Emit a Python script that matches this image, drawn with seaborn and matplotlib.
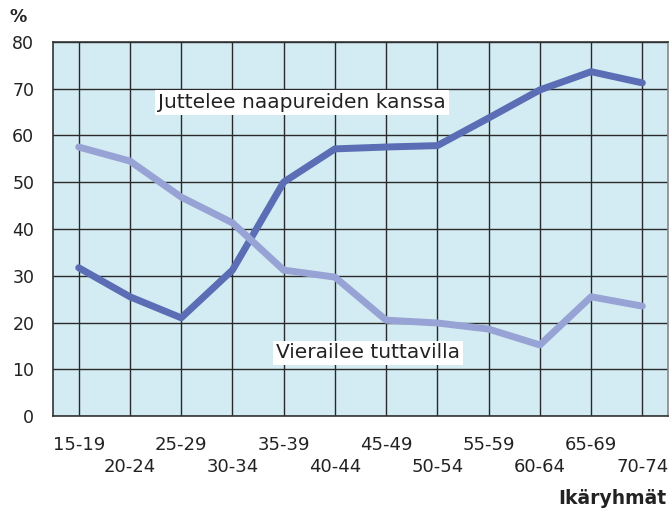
import matplotlib
matplotlib.use("Agg")
import matplotlib.pyplot as plt
import pandas as pd
import seaborn as sns

age_groups = ["15-19", "20-24", "25-29", "30-34", "35-39", "40-44",
              "45-49", "50-54", "55-59", "60-64", "65-69", "70-74"]
juttelee = [31.7, 25.5, 21.0, 31.2, 50.0, 57.1, 57.5, 57.8, 63.7, 69.7, 73.6, 71.2]
vierailee = [57.5, 54.5, 46.8, 41.3, 31.2, 29.7, 20.5, 19.9, 18.6, 15.2, 25.5, 23.5]
series_names = ["Juttelee naapureiden kanssa", "Vierailee tuttavilla"]
y_ticks = [0, 10, 20, 30, 40, 50, 60, 70, 80]

df = pd.DataFrame({
    "ika": list(range(len(age_groups))) * 2,
    "osuus": juttelee + vierailee,
    "sarja": [series_names[0]] * len(age_groups) + [series_names[1]] * len(age_groups),
})

sns.set_style("white")
plt.rcParams["font.family"] = ["DejaVu Sans"]

fig = plt.figure(figsize=(6.72, 5.15), dpi=100)
ax = fig.add_axes([0.079, 0.192, 0.915, 0.727])
ax.set_facecolor("#d3ebf2")

palette = {series_names[0]: "#5a6db5", series_names[1]: "#97a3d4"}
sns.lineplot(data=df, x="ika", y="osuus", hue="sarja", palette=palette,
             linewidth=5.0, legend=False, ax=ax, zorder=3,
             solid_capstyle="round", solid_joinstyle="round")

ax.set_xlim(-0.5, 11.5)
ax.set_ylim(0, 80)
ax.set_yticks(y_ticks)
ax.set_xticks(range(len(age_groups)))
ax.set_xticklabels([lab if i % 2 == 0 else "\n" + lab for i, lab in enumerate(age_groups)],
                   linespacing=1.25)
ax.grid(True, color="#2a2a2a", linewidth=1.0, zorder=1)
ax.set_axisbelow(True)
ax.tick_params(axis="both", length=7.5, width=1.1, color="#555555",
               labelcolor="#222222", direction="out")
ax.tick_params(axis="x", pad=7, labelsize=13)
ax.tick_params(axis="y", pad=6, labelsize=12.5)
for name, sp in ax.spines.items():
    sp.set_visible(True)
    sp.set_color("#333333" if name in ("left", "bottom", "top") else "#888888")
    sp.set_linewidth(1.2)
ax.set_xlabel("")
ax.set_ylabel("")

box = dict(facecolor="white", edgecolor="none", pad=2.0)
ax.text(1.55, 67, series_names[0], fontsize=14.5, color="#222222",
        va="center", ha="left", bbox=box, zorder=4)
ax.text(3.85, 13.5, series_names[1], fontsize=14.5, color="#222222",
        va="center", ha="left", bbox=box, zorder=4)

fig.text(10 / 672, 1 - 17 / 515, "%", fontsize=12.5, fontweight="bold",
         color="#222222", ha="left", va="center")
fig.text(666 / 672, 1 - 499 / 515, "Ikäryhmät", fontsize=13.5, fontweight="bold",
         color="#222222", ha="right", va="center")

fig.savefig("out.png", dpi=100)
